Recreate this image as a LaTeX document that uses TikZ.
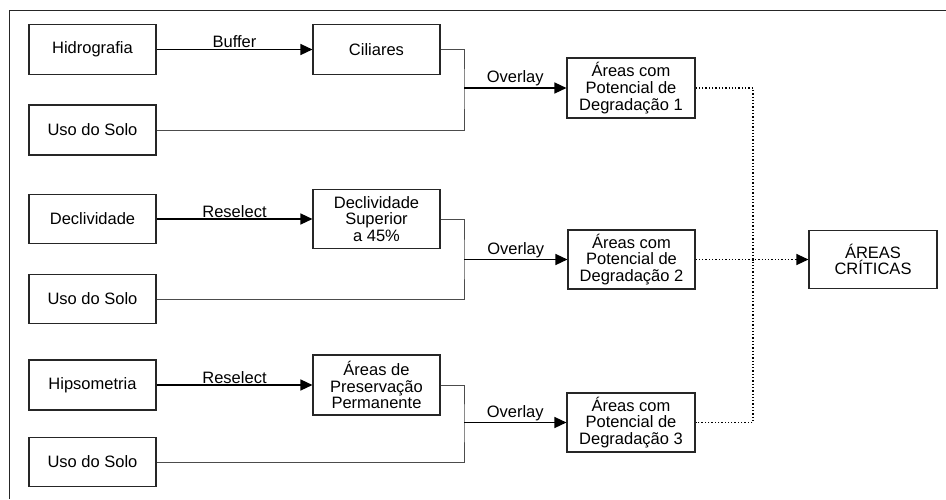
\documentclass[tikz,border=0pt]{standalone}
\usepackage{fontspec}
\setmainfont{Liberation Sans}
\usetikzlibrary{arrows.meta}
\begin{document}
\begin{tikzpicture}[x=1pt,y=-1pt,
  font=\fontsize{16.5}{16.7}\selectfont,
  box/.style={draw=black!85, line width=1.1pt, minimum width=127pt, inner sep=0pt, align=center},
  arr/.style={line width=1.4pt, -{Triangle[length=12pt,width=11pt]}},
  feed/.style={draw=black!70, line width=0.8pt},
  lab/.style={above, inner sep=1pt},
  dots/.style={dotted, line width=1.3pt}]
\useasboundingbox (0,0) rectangle (946,499);
\draw[line width=1pt, black!85] (9,499) -- (9,10.5) -- (946,10.5);
% row 1
\node[box, minimum height=50pt] (hid) at (92.5,49.5) {Hidrografia};
\node[box, minimum height=50pt] (cil) at (376.5,49.5) {Ciliares};
\node[box, minimum height=50pt] (uso1) at (92.5,130) {Uso do Solo};
\node[box, minimum width=128pt, minimum height=60pt] (apd1) at (631,88) {Áreas com\\Potencial de\\Degradação 1};
% row 2
\node[box, minimum height=49pt] (dec) at (92.5,219) {Declividade};
\node[box, minimum height=59pt] (dsup) at (376.5,219) {Declividade\\Superior\\a 45\%};
\node[box, minimum height=49pt] (uso2) at (92.5,299) {Uso do Solo};
\node[box, minimum height=59pt] (apd2) at (631.5,259.5) {Áreas com\\Potencial de\\Degradação 2};
\node[box, minimum width=128pt, minimum height=58pt] (crit) at (873,259.5) {ÁREAS\\CRÍTICAS};
% row 3
\node[box, minimum height=50pt] (hip) at (92.5,385) {Hipsometria};
\node[box, minimum height=60pt] (pres) at (376.5,385) {Áreas de\\Preservação\\Permanente};
\node[box, minimum height=49pt] (uso3) at (92.5,462) {Uso do Solo};
\node[box, minimum width=128pt, minimum height=59pt] (apd3) at (631,422.5) {Áreas com\\Potencial de\\Degradação 3};
% junctions
\coordinate (j1) at (464,88);
\coordinate (j2) at (464,259.5);
\coordinate (j3) at (464,422.5);
\coordinate (k) at (753,259.5);
% connectors
\draw[arr] (hid) -- (cil) node[lab, midway] {Buffer};
\draw[arr] (dec) -- (dsup) node[lab, midway] {Reselect};
\draw[arr] (hip) -- (pres) node[lab, midway] {Reselect};
\draw[feed] (cil.east) -| (j1) |- (uso1.east);
\draw[feed] (dsup.east) -| (j2) |- (uso2.east);
\draw[feed] (pres.east) -| (j3) |- (uso3.east);
\draw[arr] (j1) -- (apd1.west) node[lab, midway] {Overlay};
\draw[arr] (j2) -- (apd2.west) node[lab, midway] {Overlay};
\draw[arr] (j3) -- (apd3.west) node[lab, midway] {Overlay};
\draw[dots] (apd1.east) -| (k) |- (apd3.east);
\draw[dots] (apd2.east) -- ([xshift=-12pt]crit.west);
\draw[line width=1.2pt, -{Triangle[length=12pt,width=11pt]}] ([xshift=-12pt]crit.west) -- (crit.west);
\end{tikzpicture}
\end{document}
